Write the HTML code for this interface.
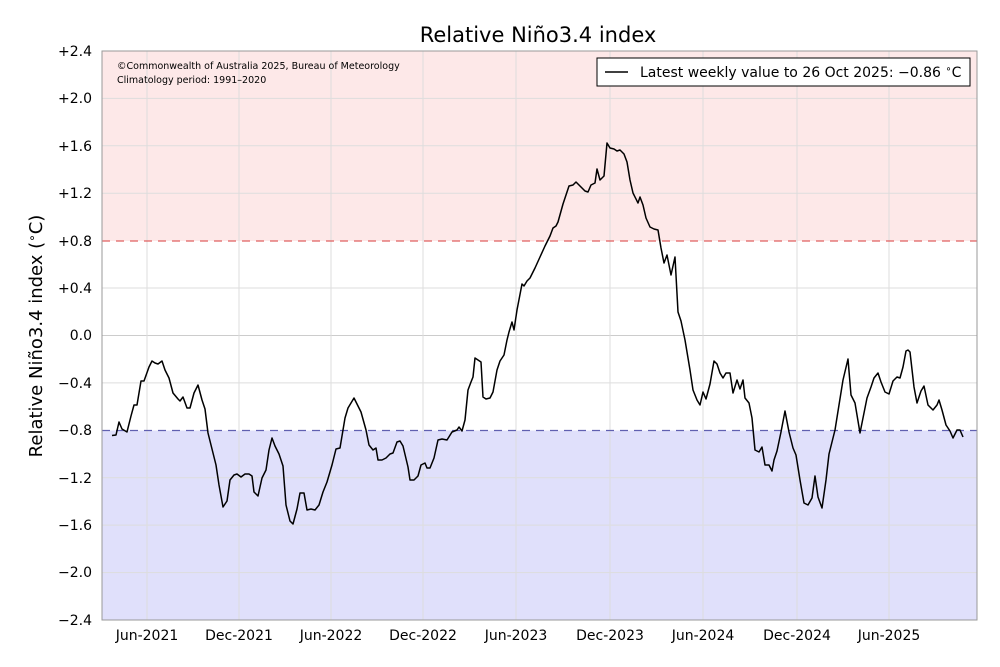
<!DOCTYPE html>
<html><head><meta charset="utf-8"><style>body{margin:0;background:#fff}svg{display:block;font-family:"DejaVu Sans","Liberation Sans",sans-serif}</style></head><body>
<svg width="1000" height="667" viewBox="0 0 1000 667">
<rect x="102" y="51" width="875" height="190" fill="#fde8e8"/>
<rect x="102" y="430.5" width="875" height="189.5" fill="#e0e0fb"/>
<g stroke="#dddddd" stroke-width="1">
<line x1="102" x2="977" y1="98.4" y2="98.4"/><line x1="102" x2="977" y1="145.8" y2="145.8"/><line x1="102" x2="977" y1="193.2" y2="193.2"/>
<line x1="102" x2="977" y1="288" y2="288"/><line x1="102" x2="977" y1="335.5" y2="335.5" stroke="#ccc"/><line x1="102" x2="977" y1="382.9" y2="382.9"/>
<line x1="102" x2="977" y1="477.7" y2="477.7"/><line x1="102" x2="977" y1="525.1" y2="525.1"/><line x1="102" x2="977" y1="572.6" y2="572.6"/>
<line y1="51" y2="620" x1="147" x2="147"/><line y1="51" y2="620" x1="239" x2="239"/><line y1="51" y2="620" x1="331" x2="331"/><line y1="51" y2="620" x1="423" x2="423"/><line y1="51" y2="620" x1="516" x2="516"/><line y1="51" y2="620" x1="610" x2="610"/><line y1="51" y2="620" x1="703" x2="703"/><line y1="51" y2="620" x1="797" x2="797"/><line y1="51" y2="620" x1="889" x2="889"/>
</g>
<line x1="102" x2="977" y1="241" y2="241" stroke="#e06060" stroke-dasharray="8,6" stroke-width="1.2"/>
<line x1="102" x2="977" y1="430.5" y2="430.5" stroke="#6060b0" stroke-dasharray="8,6" stroke-width="1.2"/>
<rect x="102" y="51" width="875" height="569" fill="none" stroke="#999" stroke-width="1"/>
<polyline fill="none" stroke="#000" stroke-width="1.5" stroke-linejoin="round" points="112,435.5 116,435 119,422 122,429 127,432 131,416 134,405 137,405 141,381 144,381 149,367 152,361 155,363 158,364 162,361 165,370 169,378 173,393 178,399 180,401 183,397 187,408 190,408 194,393 198,385 202,400 205,409 208,433 212,449 216,465 219,485 223,507 227,501 230,480 234,475 237,474 241,477 245,474 249,474 252,476 254,492 258,496 262,478 266,470 269,450 272,438 275,446 279,454 283,466 286,505 290,521 293,524 297,509 300,493 304,493 307,510 311,509 315,510 319,505 323,492 327,482 332,465 336,449 340,448 342,436 345,418 348,408 354,398 361,412 366,430 369,445 373,450 376,448 378,460 382,460 386,458 390,454 393,453 397,442 400,441 403,446 408,467 410,480 414,480 418,476 421,465 425,463 427,468 430,468 434,458 438,440 442,439 447,440 452,432 457,430 459,427 462,431 465,420 468,390 471,382 473,377 475,358 478,360 481,362 483,397 486,399 490,398 493,392 497,370 500,361 504,355 507,340 509,332 512,322 514,330 517,310 522,284 524,286 527,281 530,278 535,268 540,257 545,246 550,236 553,228 556,226 558,222 563,204 569,186 573,185 576,182 580,186 585,191 588,192 591,185 595,183 597,169 600,180 604,176 607,143 610,148 614,149 617,151 620,150 624,154 627,162 630,180 633,193 638,203 640,197 643,205 646,218 650,227 654,229 658,230 661,248 664,263 667,255 671,275 675,257 678,312 681,321 685,340 690,370 693,390 697,400 700,405 703,392 706,399 710,384 714,361 717,364 720,373 723,378 726,373 730,373 733,393 737,380 740,389 743,380 745,398 749,403 752,418 755,450 759,452 762,447 765,465 769,465 772,471 774,460 777,451 781,432 785,411 789,432 793,448 796,455 800,480 804,503 808,505 812,498 815,476 818,497 822,508 826,480 829,454 835,430 839,405 843,380 848,359 851,395 855,403 860,433 863,418 867,398 871,387 874,378 878,373 881,382 885,392 889,394 893,381 897,377 900,378 903,367 906,351 908,350 910,352 914,387 917,403 921,391 924,386 928,405 933,410 937,405 939,400 942,410 946,425 950,431 953,438 957,430 960,430 963,437"/>
<g font-size="14" fill="#000" text-anchor="end">
<text x="92" y="56">+2.4</text><text x="92" y="103">+2.0</text><text x="92" y="151">+1.6</text><text x="92" y="198">+1.2</text><text x="92" y="246">+0.8</text><text x="92" y="293">+0.4</text><text x="92" y="340">0.0</text><text x="92" y="388">−0.4</text><text x="92" y="435">−0.8</text><text x="92" y="483">−1.2</text><text x="92" y="530">−1.6</text><text x="92" y="577">−2.0</text><text x="92" y="625">−2.4</text>
</g>
<g font-size="14" text-anchor="middle">
<text x="147" y="640">Jun-2021</text><text x="239" y="640">Dec-2021</text><text x="331" y="640">Jun-2022</text><text x="423" y="640">Dec-2022</text><text x="516" y="640">Jun-2023</text><text x="610" y="640">Dec-2023</text><text x="703" y="640">Jun-2024</text><text x="797" y="640">Dec-2024</text><text x="889" y="640">Jun-2025</text>
</g>
<text x="538" y="42" font-size="21" text-anchor="middle">Relative Niño3.4 index</text>
<text transform="translate(42,336) rotate(-90)" font-size="18" text-anchor="middle">Relative Niño3.4 index (<tspan font-size="12" dy="-6">∘</tspan><tspan dy="6">C)</tspan></text>
<text x="117" y="69" font-size="9.5">©Commonwealth of Australia 2025, Bureau of Meteorology</text>
<text x="117" y="83" font-size="9.5">Climatology period: 1991–2020</text>
<rect x="597" y="58" width="373" height="28" fill="#fff" stroke="#000" stroke-width="1"/>
<line x1="605" x2="628" y1="72" y2="72" stroke="#000" stroke-width="1.5"/>
<text x="640" y="77" font-size="14">Latest weekly value to 26 Oct 2025: −0.86 <tspan font-size="10" dy="-5">∘</tspan><tspan dy="5">C</tspan></text>
</svg>
</body></html>
